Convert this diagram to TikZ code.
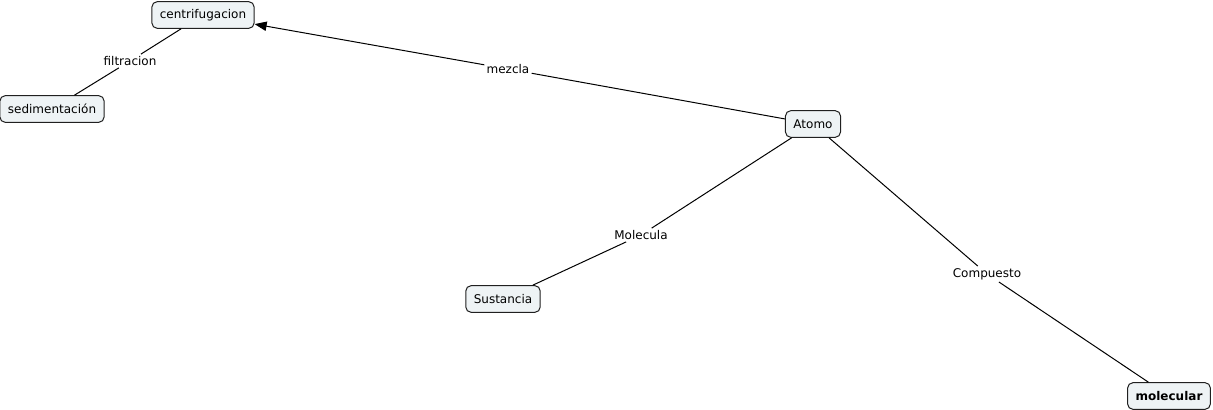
\documentclass[tikz,border=0pt]{standalone}
\usepackage{fontspec}
\setmainfont{DejaVu Sans}
\usepackage{tikz}
\usetikzlibrary{arrows.meta}
\definecolor{conceptfill}{HTML}{EEF3F5}
\definecolor{conceptline}{HTML}{202020}

\begin{document}
\begin{tikzpicture}[x=0.75pt,y=-0.75pt,
    concept/.style={draw=conceptline,fill=conceptfill,rounded corners=4pt,line width=0.75pt,
      font=\fontsize{9}{11}\selectfont,inner xsep=6pt,minimum height=20pt},
    linklabel/.style={font=\fontsize{9}{11}\selectfont,inner sep=1.5pt},
    link/.style={line width=0.75pt}]
    \useasboundingbox (0,0) rectangle (1213,410);
    \node[concept] (centrifugacion) at (203,15) {centrifugacion};
    \node[concept] (sedimentacion) at (52,109) {sedimentación};
    \node[concept] (atomo) at (813,124) {Atomo};
    \node[concept] (sustancia) at (503,299) {Sustancia};
    \node[concept,font=\fontsize{9}{11}\selectfont\bfseries] (molecular) at (1169,396) {molecular};
    \node[linklabel] (filtracion) at (130,61) {filtracion};
    \node[linklabel] (mezcla) at (508,69) {mezcla};
    \node[linklabel] (molecula) at (641,235) {Molecula};
    \node[linklabel] (compuesto) at (987,274) {Compuesto};
    \draw[link] (centrifugacion) -- (filtracion);
    \draw[link] (filtracion) -- (sedimentacion);
    \draw[link] (atomo) -- (mezcla);
    \draw[link,-{Triangle[length=9pt,width=7pt]}] (mezcla) -- (centrifugacion);
    \draw[link] (atomo) -- (molecula);
    \draw[link] (molecula) -- (sustancia);
    \draw[link] (atomo) -- (compuesto);
    \draw[link] (compuesto) -- (molecular);
  \end{tikzpicture}
\end{document}
